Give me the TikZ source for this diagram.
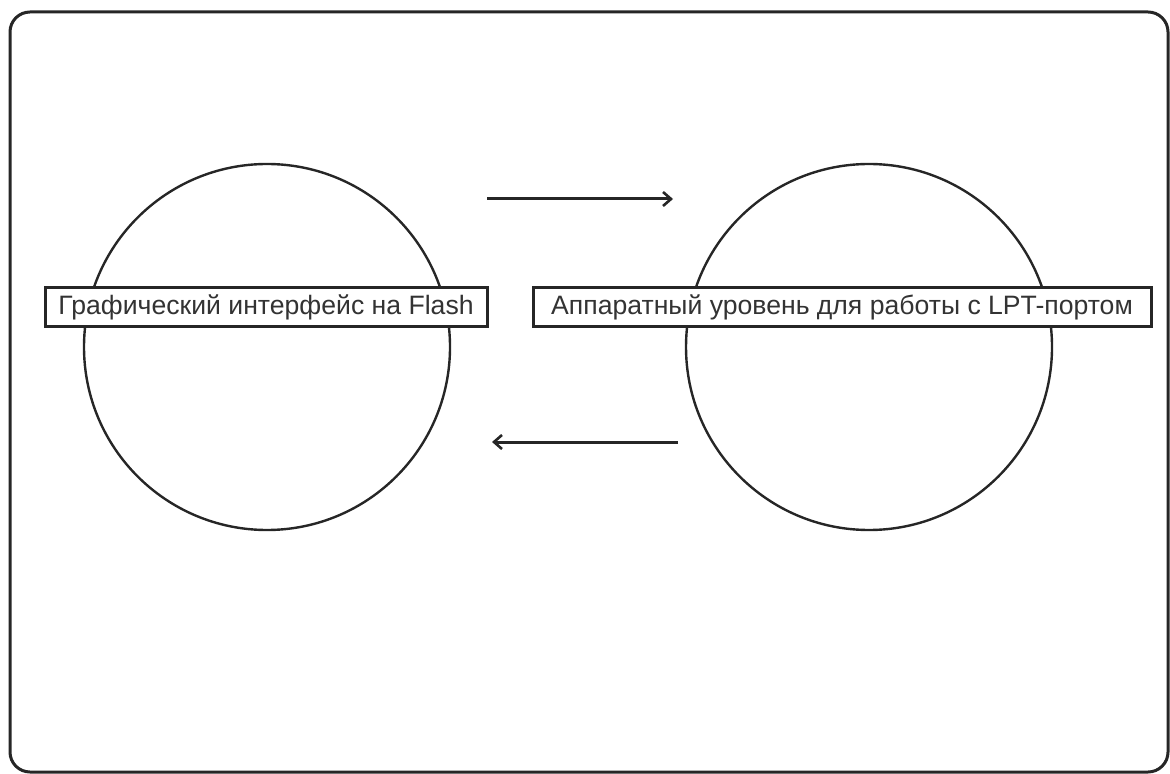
\documentclass[tikz,border=0pt]{standalone}
\usepackage{fontspec}
\setmainfont{Liberation Sans}
\usetikzlibrary{arrows.meta}
\begin{document}
\begin{tikzpicture}[x=0.5pt,y=-0.5pt,
  frame/.style={draw=black!85, line width=1.5pt, rounded corners=10pt},
  circ/.style={circle, draw=black!85, line width=1.2pt, minimum size=183pt, inner sep=0pt},
  lbl/.style={draw=black!85, fill=white, line width=1.5pt, inner sep=0pt, minimum height=19.5pt, font=\fontsize{13.3pt}{15pt}\selectfont, text=black!80},
  arr/.style={draw=black!85, line width=1.5pt, -{Straight Barb[length=4pt,width=7pt,line width=1.3pt]}}]
\useasboundingbox (0,0) rectangle (1170,774);
\draw[frame] (10,12) rectangle (1168,772);
\node[circ] (leftc) at (267,347) {};
\node[circ] (rightc) at (869,347) {};
\node[lbl, minimum width=221pt] (leftl) at (266,307.5) {Графический интерфейс на Flash};
\node[lbl, minimum width=309pt] (rightl) at (842,307.5) {Аппаратный уровень для работы с LPT-портом};
\coordinate (a1s) at (487,199);
\coordinate (a1e) at (673,199);
\coordinate (a2s) at (678,442);
\coordinate (a2e) at (492,442);
\draw[arr] (a1s) -- (a1e);
\draw[arr] (a2s) -- (a2e);
\end{tikzpicture}
\end{document}
